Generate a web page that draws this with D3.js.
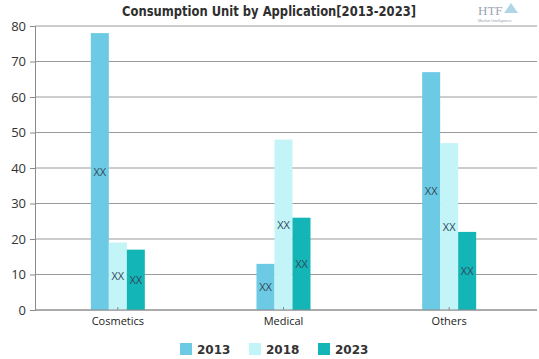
<!DOCTYPE html>
<html>
<head>
<meta charset="utf-8">
<script src="https://cdn.jsdelivr.net/npm/d3@7"></script>
<style>
  body { margin: 0; background: #fff; }
  svg { display: block; }
</style>
</head>
<body>
<div id="chart"></div>
<script>
var width = 539;
var height = 359;

var categories = ["Cosmetics", "Medical", "Others"];
var years = ["2013", "2018", "2023"];
var values2013 = [78, 13, 67];
var values2018 = [19, 48, 47];
var values2023 = [17, 26, 22];
var yTicks = [0, 10, 20, 30, 40, 50, 60, 70, 80];
var colors = ["#6dcae4", "#c2f4f8", "#14b5b7"];

var series = [values2013, values2018, values2023];

var margin = {top: 26, right: 7, bottom: 49, left: 35};

var svg = d3.select("#chart").append("svg")
    .attr("width", width).attr("height", height);

// title
svg.append("text")
    .attr("x", 122).attr("y", 16)
    .attr("textLength", 294)
    .attr("lengthAdjust", "spacingAndGlyphs")
    .style("font-family", "'DejaVu Sans Condensed', 'Liberation Sans Narrow', sans-serif")
    .style("font-weight", "bold")
    .style("font-size", "14px")
    .style("fill", "#2f2f2f")
    .text("Consumption Unit by  Application[2013-2023]");

// logo-ish mark
svg.append("text")
    .attr("x", 478).attr("y", 15)
    .style("font-family", "'Liberation Serif', serif")
    .style("font-size", "13px")
    .style("fill", "#9aa4ad")
    .text("HTF");
svg.append("text")
    .attr("x", 478).attr("y", 22)
    .style("font-family", "sans-serif")
    .style("font-size", "4px")
    .style("fill", "#9aa4ad")
    .text("Market Intelligence");
svg.append("path")
    .attr("d", "M504,13 L511,3 L518,13 Z")
    .attr("fill", "#8fc3dd").attr("opacity", 0.7);

var x = d3.scaleBand()
    .domain(categories)
    .range([margin.left, width - margin.right]);

var xInner = d3.scaleBand()
    .domain(years)
    .range([0, 54]);

var y = d3.scaleLinear()
    .domain([0, 80])
    .range([height - margin.bottom, margin.top]);

// gridlines
svg.append("g")
    .selectAll("line")
    .data(yTicks)
    .join("line")
    .attr("x1", margin.left)
    .attr("x2", width - 2)
    .attr("y1", d => y(d))
    .attr("y2", d => y(d))
    .style("stroke", "#9a9a9a")
    .style("stroke-width", 1);

// y axis
var yAxis = svg.append("g")
    .attr("transform", "translate(" + margin.left + ",0)")
    .call(d3.axisLeft(y).tickValues(yTicks).tickSize(5).tickPadding(4));
yAxis.select(".domain").attr("stroke", "#8a8a8a");
yAxis.selectAll(".tick line").attr("stroke", "#8a8a8a");
yAxis.selectAll("text")
    .style("font-family", "'Open Sans', 'DejaVu Sans', sans-serif")
    .style("font-size", "13px")
    .style("fill", "#333");

// bars
for (let s = 0; s < series.length; s++) {
    let g = svg.append("g");
    g.selectAll("rect")
        .data(categories)
        .join("rect")
        .attr("x", (d) => x(d) + x.bandwidth() / 2 - 27 + xInner(years[s]))
        .attr("width", xInner.bandwidth())
        .attr("y", (d, i) => y(series[s][i]))
        .attr("height", (d, i) => y(0) - y(series[s][i]))
        .attr("fill", colors[s]);
    g.selectAll("text")
        .data(categories)
        .join("text")
        .attr("x", (d) => x(d) + x.bandwidth() / 2 - 27 + xInner(years[s]) + xInner.bandwidth() / 2)
        .attr("y", (d, i) => y(series[s][i] / 2) + 4)
        .attr("text-anchor", "middle")
        .style("font-family", "'Open Sans', 'DejaVu Sans', sans-serif")
        .style("font-size", "11px")
        .style("fill", "#2e4a5a")
        .text("XX");
}

// x axis
var xAxis = svg.append("g")
    .attr("transform", "translate(0," + y(0) + ")")
    .call(d3.axisBottom(x).tickSize(3).tickPadding(4));
xAxis.select(".domain").attr("stroke", "#8a8a8a").attr("d", "M" + margin.left + ",0H" + (width - 2));
xAxis.selectAll(".tick line").attr("stroke", "#8a8a8a").attr("transform", "translate(0,-3)");
xAxis.selectAll("text")
    .style("font-family", "'Open Sans', 'DejaVu Sans', sans-serif")
    .style("font-size", "11px")
    .style("fill", "#222");

// legend
var legendX = [180, 249, 318];
var legend = svg.append("g");
legend.selectAll("rect")
    .data(years)
    .join("rect")
    .attr("x", (d, i) => legendX[i])
    .attr("y", 343)
    .attr("width", 12).attr("height", 12)
    .attr("fill", (d, i) => colors[i]);
legend.selectAll("text")
    .data(years)
    .join("text")
    .attr("x", (d, i) => legendX[i] + 17)
    .attr("y", 354)
    .style("font-family", "'DejaVu Sans', sans-serif")
    .style("font-size", "12px")
    .style("font-weight", "bold")
    .style("fill", "#333")
    .text(d => d);
</script>
</body>
</html>
